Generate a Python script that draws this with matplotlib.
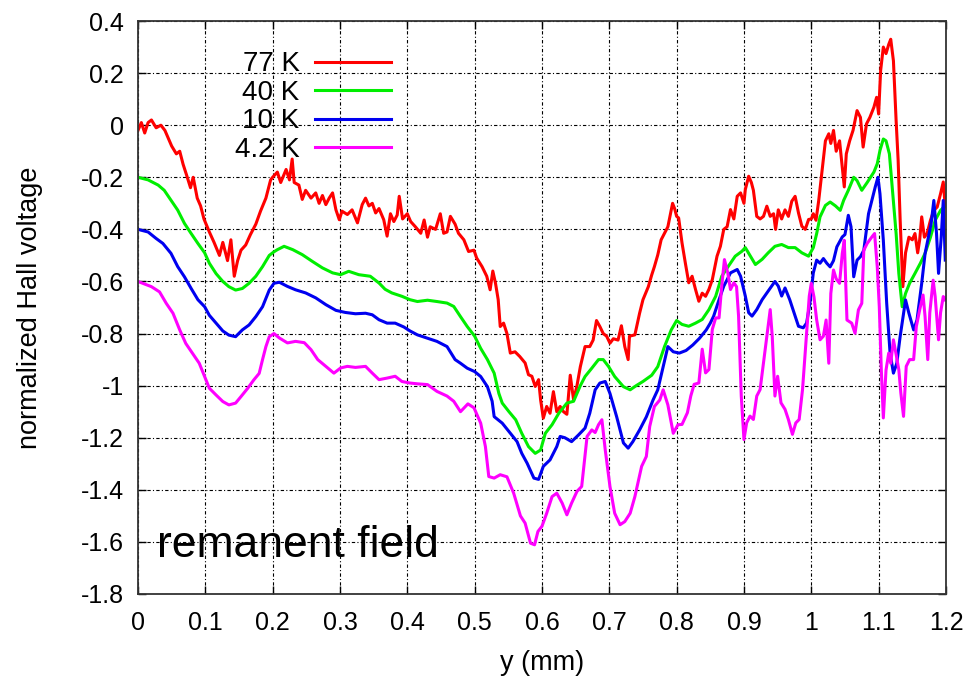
import numpy as np
import matplotlib
matplotlib.use("Agg")
import matplotlib.pyplot as plt
from matplotlib.ticker import FuncFormatter

plt.rcParams['font.family'] = ['Liberation Sans', 'DejaVu Sans']
plt.rcParams['axes.unicode_minus'] = False

# Hall scans across the sample, one per temperature
temps = ["77 K", "40 K", "10 K", "4.2 K"]
colors = ["#ff0000", "#00ee00", "#0000f0", "#ff00ff"]

x_77 = [0.000, 0.005, 0.010, 0.015, 0.020, 0.027, 0.034, 0.040, 0.045, 0.050,
        0.057, 0.062, 0.067, 0.072, 0.078, 0.082, 0.088, 0.093, 0.098, 0.106,
        0.113, 0.121, 0.126, 0.133, 0.138, 0.143, 0.148, 0.153, 0.160, 0.167,
        0.175, 0.182, 0.190, 0.197, 0.200, 0.207, 0.212, 0.220, 0.225, 0.229,
        0.232, 0.239, 0.244, 0.249, 0.257, 0.264, 0.269, 0.274, 0.279, 0.284,
        0.289, 0.294, 0.299, 0.303, 0.311, 0.318, 0.326, 0.333, 0.338, 0.343,
        0.348, 0.353, 0.358, 0.365, 0.370, 0.375, 0.380, 0.385, 0.388, 0.393,
        0.400, 0.405, 0.412, 0.420, 0.425, 0.430, 0.434, 0.442, 0.449, 0.454,
        0.459, 0.464, 0.471, 0.476, 0.484, 0.491, 0.499, 0.503, 0.511, 0.518,
        0.523, 0.527, 0.531, 0.535, 0.538, 0.543, 0.548, 0.553, 0.560, 0.567,
        0.575, 0.580, 0.585, 0.590, 0.595, 0.598, 0.602, 0.607, 0.612, 0.617,
        0.622, 0.627, 0.632, 0.637, 0.642, 0.647, 0.652, 0.657, 0.664, 0.671,
        0.676, 0.681, 0.686, 0.691, 0.696, 0.701, 0.706, 0.713, 0.718, 0.723,
        0.728, 0.730, 0.738, 0.745, 0.750, 0.758, 0.763, 0.767, 0.772, 0.777,
        0.782, 0.787, 0.794, 0.797, 0.800, 0.803, 0.808, 0.813, 0.818, 0.823,
        0.828, 0.833, 0.838, 0.843, 0.848, 0.853, 0.860, 0.865, 0.870, 0.875,
        0.880, 0.885, 0.890, 0.895, 0.900, 0.902, 0.907, 0.911, 0.914, 0.919,
        0.924, 0.929, 0.934, 0.939, 0.944, 0.947, 0.951, 0.956, 0.961, 0.966,
        0.971, 0.976, 0.981, 0.986, 0.991, 0.996, 1.000, 1.003, 1.007, 1.011,
        1.016, 1.021, 1.026, 1.029, 1.033, 1.037, 1.042, 1.046, 1.049, 1.052,
        1.057, 1.062, 1.068, 1.073, 1.077, 1.082, 1.087, 1.093, 1.097, 1.100,
        1.103, 1.107, 1.111, 1.115, 1.118, 1.122, 1.126, 1.129, 1.132, 1.136,
        1.140, 1.145, 1.150, 1.154, 1.158, 1.161, 1.164, 1.168, 1.172, 1.177,
        1.182, 1.187, 1.192, 1.196, 1.199]
v_77 = [-0.02, 0.01, -0.03, 0.01, 0.02, -0.01, 0.00, -0.02, -0.05, -0.08,
        -0.11, -0.10, -0.15, -0.19, -0.24, -0.20, -0.28, -0.31, -0.36, -0.41,
        -0.45, -0.50, -0.45, -0.52, -0.44, -0.58, -0.52, -0.48, -0.46, -0.42,
        -0.38, -0.33, -0.28, -0.21, -0.20, -0.18, -0.22, -0.17, -0.21, -0.13,
        -0.22, -0.23, -0.285, -0.25, -0.28, -0.26, -0.30, -0.27, -0.305, -0.28,
        -0.26, -0.325, -0.363, -0.33, -0.343, -0.325, -0.375, -0.305, -0.28, -0.31,
        -0.30, -0.337, -0.32, -0.363, -0.426, -0.34, -0.37, -0.345, -0.273, -0.36,
        -0.34, -0.37, -0.39, -0.415, -0.364, -0.43, -0.39, -0.40, -0.34, -0.415,
        -0.41, -0.35, -0.38, -0.415, -0.44, -0.485, -0.48, -0.51, -0.543, -0.58,
        -0.632, -0.56, -0.607, -0.67, -0.773, -0.76, -0.80, -0.875, -0.87, -0.888,
        -0.913, -0.958, -0.964, -1.003, -0.977, -1.055, -1.125, -1.08, -1.106, -1.023,
        -1.10, -1.08, -1.10, -1.11, -0.96, -1.055, -1.00, -0.927, -0.85, -0.85,
        -0.825, -0.75, -0.773, -0.80, -0.81, -0.837, -0.82, -0.825, -0.77, -0.85,
        -0.90, -0.81, -0.805, -0.722, -0.67, -0.62, -0.575, -0.543, -0.498, -0.44,
        -0.415, -0.39, -0.30, -0.32, -0.35, -0.356, -0.452, -0.53, -0.605, -0.58,
        -0.63, -0.676, -0.645, -0.657, -0.63, -0.593, -0.503, -0.465, -0.40, -0.39,
        -0.324, -0.36, -0.273, -0.26, -0.30, -0.247, -0.196, -0.22, -0.25, -0.35,
        -0.36, -0.35, -0.311, -0.35, -0.34, -0.40, -0.325, -0.36, -0.325, -0.35,
        -0.292, -0.273, -0.337, -0.388, -0.40, -0.362, -0.36, -0.34, -0.365, -0.29,
        -0.174, -0.06, -0.033, -0.07, -0.02, -0.10, -0.06, -0.16, -0.237, -0.11,
        -0.06, -0.02, 0.056, 0.03, -0.084, 0.005, 0.03, 0.069, 0.107, 0.043,
        0.21, 0.30, 0.275, 0.31, 0.33, 0.247, 0.017, -0.135, -0.365, -0.62,
        -0.49, -0.43, -0.44, -0.416, -0.49, -0.44, -0.352, -0.43, -0.416, -0.365,
        -0.327, -0.314, -0.263, -0.218, -0.314]

x_40 = [0.000, 0.015, 0.030, 0.039, 0.049, 0.059, 0.069, 0.079, 0.089, 0.099,
        0.106, 0.116, 0.126, 0.135, 0.145, 0.155, 0.165, 0.175, 0.185, 0.195,
        0.202, 0.207, 0.217, 0.230, 0.244, 0.259, 0.274, 0.289, 0.301, 0.313,
        0.328, 0.345, 0.358, 0.367, 0.377, 0.392, 0.404, 0.415, 0.430, 0.444,
        0.459, 0.469, 0.479, 0.489, 0.500, 0.509, 0.519, 0.529, 0.536, 0.541,
        0.551, 0.561, 0.570, 0.580, 0.590, 0.598, 0.605, 0.615, 0.625, 0.637,
        0.647, 0.657, 0.664, 0.674, 0.684, 0.691, 0.699, 0.708, 0.721, 0.731,
        0.740, 0.750, 0.763, 0.772, 0.782, 0.792, 0.800, 0.808, 0.818, 0.828,
        0.838, 0.848, 0.858, 0.867, 0.877, 0.887, 0.897, 0.902, 0.909, 0.917,
        0.927, 0.936, 0.946, 0.956, 0.966, 0.976, 0.986, 0.996, 1.003, 1.008,
        1.013, 1.021, 1.028, 1.036, 1.043, 1.048, 1.055, 1.063, 1.068, 1.075,
        1.083, 1.093, 1.098, 1.102, 1.107, 1.111, 1.116, 1.121, 1.126, 1.130,
        1.135, 1.140, 1.146, 1.154, 1.162, 1.169, 1.177, 1.184, 1.192, 1.197]
v_40 = [-0.20, -0.21, -0.23, -0.25, -0.288, -0.326, -0.377, -0.416, -0.454, -0.49,
        -0.53, -0.57, -0.60, -0.62, -0.633, -0.627, -0.607, -0.58, -0.543, -0.50,
        -0.486, -0.478, -0.465, -0.478, -0.497, -0.523, -0.548, -0.567, -0.574, -0.561,
        -0.574, -0.58, -0.606, -0.63, -0.644, -0.657, -0.67, -0.677, -0.672, -0.677,
        -0.683, -0.696, -0.735, -0.773, -0.81, -0.857, -0.90, -0.952, -1.03, -1.067,
        -1.10, -1.131, -1.183, -1.234, -1.26, -1.247, -1.183, -1.15, -1.106, -1.067,
        -1.06, -1.00, -0.965, -0.933, -0.90, -0.90, -0.927, -0.965, -1.004, -1.016,
        -1.00, -0.984, -0.96, -0.927, -0.85, -0.786, -0.75, -0.765, -0.772, -0.76,
        -0.746, -0.708, -0.657, -0.58, -0.541, -0.503, -0.484, -0.47, -0.50, -0.535,
        -0.515, -0.49, -0.465, -0.458, -0.47, -0.47, -0.49, -0.503, -0.47, -0.416,
        -0.352, -0.308, -0.295, -0.31, -0.327, -0.289, -0.25, -0.20, -0.213, -0.25,
        -0.22, -0.18, -0.148, -0.097, -0.053, -0.06, -0.11, -0.263, -0.416, -0.569,
        -0.697, -0.646, -0.607, -0.569, -0.53, -0.492, -0.43, -0.365, -0.327, -0.314]

x_10 = [0.000, 0.015, 0.027, 0.037, 0.049, 0.059, 0.069, 0.079, 0.089, 0.099,
        0.106, 0.116, 0.126, 0.135, 0.145, 0.155, 0.165, 0.175, 0.185, 0.195,
        0.202, 0.210, 0.222, 0.234, 0.249, 0.264, 0.279, 0.294, 0.308, 0.323,
        0.338, 0.348, 0.358, 0.370, 0.382, 0.395, 0.404, 0.415, 0.430, 0.444,
        0.459, 0.471, 0.479, 0.489, 0.500, 0.509, 0.519, 0.526, 0.529, 0.541,
        0.553, 0.563, 0.570, 0.578, 0.588, 0.595, 0.602, 0.612, 0.622, 0.627,
        0.634, 0.644, 0.654, 0.664, 0.671, 0.679, 0.686, 0.694, 0.701, 0.711,
        0.721, 0.728, 0.735, 0.745, 0.755, 0.765, 0.772, 0.780, 0.787, 0.795,
        0.804, 0.814, 0.824, 0.834, 0.844, 0.850, 0.855, 0.863, 0.870, 0.875,
        0.880, 0.890, 0.895, 0.902, 0.907, 0.912, 0.919, 0.927, 0.934, 0.941,
        0.946, 0.951, 0.956, 0.961, 0.968, 0.976, 0.981, 0.988, 0.993, 0.998,
        1.003, 1.008, 1.013, 1.018, 1.023, 1.028, 1.033, 1.038, 1.046, 1.050,
        1.055, 1.059, 1.063, 1.068, 1.073, 1.078, 1.085, 1.090, 1.095, 1.099,
        1.102, 1.107, 1.112, 1.117, 1.122, 1.127, 1.132, 1.140, 1.145, 1.152,
        1.157, 1.164, 1.169, 1.174, 1.178, 1.182, 1.186, 1.189, 1.193, 1.196,
        1.199]
v_10 = [-0.40, -0.41, -0.435, -0.454, -0.492, -0.543, -0.582, -0.627, -0.67, -0.697,
        -0.73, -0.76, -0.79, -0.806, -0.812, -0.786, -0.767, -0.735, -0.697, -0.633,
        -0.607, -0.603, -0.619, -0.632, -0.644, -0.663, -0.689, -0.711, -0.719, -0.724,
        -0.722, -0.728, -0.747, -0.76, -0.76, -0.775, -0.79, -0.805, -0.818, -0.83,
        -0.85, -0.90, -0.914, -0.933, -0.946, -0.965, -1.004, -1.06, -1.119, -1.144,
        -1.183, -1.215, -1.26, -1.298, -1.355, -1.36, -1.31, -1.285, -1.234, -1.195,
        -1.20, -1.215, -1.19, -1.163, -1.106, -1.016, -0.99, -0.984, -1.03, -1.12,
        -1.22, -1.24, -1.215, -1.17, -1.12, -1.055, -1.016, -0.927, -0.85, -0.87,
        -0.875, -0.865, -0.844, -0.818, -0.786, -0.76, -0.733, -0.67, -0.618, -0.593,
        -0.567, -0.554, -0.58, -0.656, -0.72, -0.733, -0.708, -0.67, -0.644, -0.618,
        -0.60, -0.618, -0.656, -0.625, -0.67, -0.733, -0.772, -0.778, -0.76, -0.682,
        -0.567, -0.518, -0.53, -0.512, -0.53, -0.544, -0.52, -0.467, -0.429, -0.42,
        -0.346, -0.39, -0.582, -0.518, -0.505, -0.48, -0.34, -0.289, -0.237, -0.20,
        -0.263, -0.442, -0.684, -0.875, -0.952, -0.914, -0.811, -0.671, -0.722, -0.786,
        -0.748, -0.607, -0.493, -0.429, -0.378, -0.289, -0.416, -0.569, -0.43, -0.289,
        -0.518]

x_42 = [0.000, 0.020, 0.032, 0.042, 0.052, 0.062, 0.071, 0.081, 0.091, 0.099,
        0.106, 0.116, 0.126, 0.135, 0.145, 0.153, 0.163, 0.172, 0.180, 0.185,
        0.190, 0.195, 0.202, 0.210, 0.222, 0.234, 0.247, 0.257, 0.267, 0.279,
        0.291, 0.301, 0.311, 0.323, 0.338, 0.348, 0.358, 0.370, 0.382, 0.392,
        0.404, 0.415, 0.430, 0.444, 0.459, 0.469, 0.479, 0.490, 0.499, 0.509,
        0.516, 0.521, 0.529, 0.538, 0.548, 0.558, 0.568, 0.575, 0.583, 0.589,
        0.594, 0.600, 0.607, 0.615, 0.622, 0.630, 0.637, 0.644, 0.652, 0.659,
        0.667, 0.674, 0.679, 0.684, 0.689, 0.694, 0.701, 0.708, 0.716, 0.723,
        0.731, 0.738, 0.748, 0.755, 0.760, 0.767, 0.775, 0.780, 0.787, 0.795,
        0.802, 0.808, 0.816, 0.821, 0.826, 0.833, 0.838, 0.843, 0.848, 0.853,
        0.858, 0.863, 0.867, 0.871, 0.876, 0.880, 0.885, 0.889, 0.892, 0.896,
        0.900, 0.904, 0.909, 0.914, 0.919, 0.924, 0.929, 0.934, 0.939, 0.942,
        0.946, 0.950, 0.955, 0.961, 0.966, 0.972, 0.977, 0.982, 0.987, 0.992,
        0.997, 1.000, 1.004, 1.008, 1.013, 1.018, 1.022, 1.026, 1.029, 1.033,
        1.037, 1.042, 1.046, 1.049, 1.053, 1.060, 1.065, 1.070, 1.075, 1.078,
        1.083, 1.090, 1.094, 1.098, 1.101, 1.104, 1.107, 1.111, 1.115, 1.118,
        1.122, 1.126, 1.130, 1.133, 1.137, 1.141, 1.146, 1.152, 1.156, 1.161,
        1.166, 1.169, 1.173, 1.176, 1.181, 1.184, 1.189, 1.192, 1.196, 1.199]
v_42 = [-0.60, -0.62, -0.64, -0.684, -0.722, -0.786, -0.838, -0.876, -0.914, -0.965,
        -1.01, -1.036, -1.061, -1.074, -1.067, -1.042, -1.01, -0.978, -0.953, -0.90,
        -0.85, -0.812, -0.80, -0.817, -0.836, -0.83, -0.835, -0.862, -0.90, -0.926,
        -0.952, -0.932, -0.926, -0.93, -0.926, -0.952, -0.977, -0.971, -0.964, -0.984,
        -0.99, -0.993, -0.996, -1.022, -1.04, -1.06, -1.10, -1.07, -1.085, -1.144,
        -1.234, -1.349, -1.355, -1.342, -1.35, -1.413, -1.50, -1.528, -1.605, -1.611,
        -1.56, -1.54, -1.49, -1.426, -1.413, -1.451, -1.496, -1.451, -1.406, -1.387,
        -1.195, -1.17, -1.18, -1.15, -1.131, -1.247, -1.387, -1.49, -1.534, -1.522,
        -1.49, -1.426, -1.31, -1.272, -1.157, -1.08, -1.055, -1.016, -1.074, -1.183,
        -1.15, -1.149, -1.104, -1.04, -0.995, -0.99, -0.86, -0.951, -0.938, -0.784,
        -0.74, -0.74, -0.618, -0.516, -0.567, -0.631, -0.605, -0.62, -0.733, -1.04,
        -1.207, -1.143, -1.117, -1.13, -1.04, -1.015, -0.912, -0.81, -0.708, -0.81,
        -1.04, -0.964, -1.066, -1.091, -1.13, -1.187, -1.143, -1.13, -1.015, -0.836,
        -0.656, -0.607, -0.66, -0.748, -0.824, -0.81, -0.748, -0.914, -0.646, -0.556,
        -0.59, -0.607, -0.493, -0.442, -0.748, -0.76, -0.799, -0.709, -0.684, -0.48,
        -0.454, -0.429, -0.416, -0.544, -0.697, -0.939, -1.124, -0.94, -0.875, -0.914,
        -0.824, -0.88, -0.939, -1.028, -1.118, -0.926, -0.90, -0.90, -0.773, -0.709,
        -0.652, -0.735, -0.90, -0.72, -0.595, -0.658, -0.824, -0.72, -0.658, -0.671]

xs_all = [x_77, x_40, x_10, x_42]
vs_all = [v_77, v_40, v_10, v_42]

fig = plt.figure(figsize=(9.71, 6.78), dpi=100)
ax = fig.add_axes([0.1421, 0.1239, 0.8321, 0.8451])

for xs, vs, lab, c in zip(xs_all, vs_all, temps, colors):
    ax.plot(xs, vs, color=c, lw=2.2, label=lab)

ax.set_xlim(0, 1.2)
ax.set_ylim(-1.8, 0.4)
ax.set_xticks(np.round(np.arange(0, 1.21, 0.1), 1))
ax.set_yticks(np.round(np.arange(-1.8, 0.41, 0.2), 1))
fmt = FuncFormatter(lambda v, p: f"{round(v, 1) + 0.0:g}")
ax.xaxis.set_major_formatter(fmt)
ax.yaxis.set_major_formatter(fmt)

ax.grid(True, color="black", lw=0.8, ls=(0, (3, 2, 1, 2)))
ax.tick_params(direction="in", length=6, width=1, top=True, right=True,
               labelsize=18)
ax.tick_params(axis="x", pad=12)
ax.tick_params(axis="y", pad=10)
for sp in ax.spines.values():
    sp.set_color("#333333")
    sp.set_linewidth(1.3)

ax.set_xlabel("y (mm)", fontsize=19.5, labelpad=11)
ax.set_ylabel("normalized Hall voltage", fontsize=19.5, labelpad=27)

ax.legend(loc="upper left", bbox_to_anchor=(0.12, 0.947), frameon=False,
          markerfirst=False, fontsize=20, handlelength=2.73, handletextpad=0.54,
          labelspacing=0.09, borderpad=0, borderaxespad=0)

ax.text(0.0235, 0.0646, "remanent field", transform=ax.transAxes,
        fontsize=32, va="baseline")

fig.savefig("out.png", dpi=100)
